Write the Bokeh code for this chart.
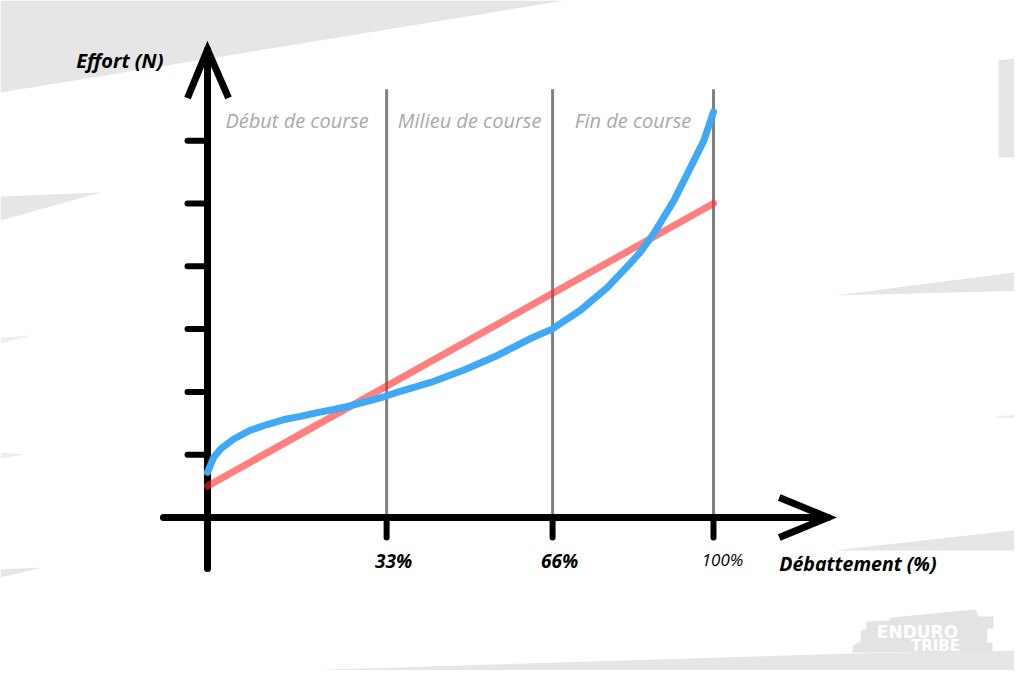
from bokeh.plotting import figure
from bokeh.models import Range1d
from bokeh.core.properties import value
from bokeh.embed import file_html
from bokeh.resources import INLINE

# ---------------- data ----------------
x_tick_pos = [35.4, 68.2, 100]
x_tick_labels = ["33%", "66%", "100%"]
y_ticks = [1, 2, 3, 4, 5, 6]
zones = ["Début de course", "Milieu de course", "Fin de course"]
zone_bounds = [0, 35.4, 68.2, 100]

red_x = [0, 100]
red_y = [0.5, 5.0]

blue_x = [0, 1.25, 2.57, 5.2, 8.5, 11.8, 15.1, 18.4, 21.7, 25.0, 28.3, 31.6, 35.2, 38.1,
          44.1, 50.7, 57.3, 63.8, 68.1, 73.7, 79.0, 82.9, 85.5, 88.2, 92.2, 95.5, 98.1, 100]
blue_y = [0.72, 0.96, 1.09, 1.25, 1.39, 1.48, 1.56, 1.61, 1.67, 1.72, 1.78, 1.85, 1.93, 2.01,
          2.15, 2.35, 2.58, 2.85, 3.00, 3.30, 3.66, 3.99, 4.22, 4.52, 5.05, 5.58, 6.00, 6.46]

x_title = "Débattement (%)"
y_title = "Effort (N)"

# ---------------- figure ----------------
W, H = 1014, 670
p = figure(width=W, height=H,
           x_range=Range1d(-40.91, 159.49), y_range=Range1d(-2.436, 8.232),
           output_backend="svg", toolbar_location=None,
           x_axis_location=None, y_axis_location=None, min_border=0)
p.grid.visible = False
p.outline_line_color = None
p.background_fill_color = "white"
p.border_fill_color = "white"
p.extra_x_ranges = {"px": Range1d(0, W)}
p.extra_y_ranges = {"py": Range1d(H, 0)}

BG = "#e6e6e6"
def deco(pts, color=BG):
    p.patch([a for a, b in pts], [b for a, b in pts], x_range_name="px", y_range_name="py",
            fill_color=color, line_color=None)

# background brush strokes (decoration, pixel coordinates)
deco([(0, 0), (565, 0), (0, 92)])
deco([(998, 60), (1030, 56), (1030, 157), (998, 157)])
deco([(0, 196), (100, 192), (0, 220)])
deco([(0, 337), (30, 335), (0, 343)], "#ededed")
deco([(0, 452), (25, 454), (0, 458)], "#ededed")
deco([(0, 569), (42, 567), (0, 577)])
deco([(835, 295), (1030, 270), (1030, 290)])
deco([(990, 417), (1030, 412), (1030, 418)], "#ededed")
deco([(833, 550), (1030, 528), (1030, 550)])
deco([(0, 684), (300, 670), (850, 653), (1030, 650), (1030, 686), (0, 686)])
# logo plate
deco([(890, 617), (975, 609), (978, 616), (993, 616), (993, 628), (987, 628), (987, 642),
      (992, 642), (992, 652), (852, 652), (852, 645), (860, 641), (860, 630), (866, 628),
      (866, 621), (888, 620)], "#e3e3e3")
p.text(x=[917], y=[631], text=["ENDURO"], x_range_name="px", y_range_name="py",
       text_align="center", text_baseline="middle", text_color="white",
       text_font=value("DejaVu Sans"), text_font_style="bold", text_font_size="17px")
p.text(x=[935], y=[645], text=["TRIBE"], x_range_name="px", y_range_name="py",
       text_align="center", text_baseline="middle", text_color="white",
       text_font=value("DejaVu Sans"), text_font_style="bold", text_font_size="15px")

# vertical zone separators
top_sep = 6.82
p.multi_line(xs=[[x, x] for x in x_tick_pos], ys=[[0, top_sep] for _ in x_tick_pos],
             line_color="#808080", line_width=3)

# axes (black, thick)
AX = 7
p.line(x=[0, 0], y=[-0.81, 7.45], line_color="black", line_width=AX, line_cap="round")
p.line(x=[-8.7, 122.6], y=[0, 0], line_color="black", line_width=AX, line_cap="round")
# arrow heads
p.line(x=[-3.95, 0, 4.15], y=[6.68, 7.45, 6.68], line_color="black", line_width=AX, line_join="miter")
p.line(x=[113.0, 122.6, 113.0], y=[0.32, 0, -0.32], line_color="black", line_width=AX, line_join="miter")
# ticks
p.multi_line(xs=[[-3.95, 0] for _ in y_ticks], ys=[[t, t] for t in y_ticks],
             line_color="black", line_width=6, line_cap="round")
p.multi_line(xs=[[x, x] for x in x_tick_pos], ys=[[0, -0.32] for _ in x_tick_pos],
             line_color="black", line_width=6, line_cap="round")

# series
p.line(x=red_x, y=red_y, line_color="#ff2a2a", line_alpha=0.6, line_width=7, line_cap="round")
p.line(x=blue_x, y=blue_y, line_color="#3fa9f5", line_width=7, line_cap="round", line_join="round")

# zone labels
FONT = value("Open Sans")
zx = [(zone_bounds[i] + zone_bounds[i + 1]) / 2 for i in range(len(zones))]
p.text(x=zx, y=[6.32] * len(zones), text=zones, text_align="center", text_baseline="middle",
       text_color="#a9a9a9", text_font=FONT, text_font_style="italic", text_font_size="20px")

# tick labels
p.text(x=x_tick_pos[:2], y=[-0.69] * 2, text=x_tick_labels[:2], x_offset=7,
       text_align="center", text_baseline="middle", text_color="black",
       text_font=FONT, text_font_style="bold italic", text_font_size="19px")
p.text(x=x_tick_pos[2:], y=[-0.67], text=x_tick_labels[2:], x_offset=9,
       text_align="center", text_baseline="middle", text_color="black",
       text_font=FONT, text_font_style="italic", text_font_size="17px")

# axis titles
p.text(x=[113.0], y=[-0.73], text=[x_title], text_align="left", text_baseline="middle",
       text_color="black", text_font=FONT, text_font_style="bold italic", text_font_size="19.5px")
p.text(x=[-8.7], y=[7.28], text=[y_title], text_align="right", text_baseline="middle",
       text_color="black", text_font=FONT, text_font_style="bold italic", text_font_size="20px")

open("out.html", "w").write(file_html(p, INLINE))
